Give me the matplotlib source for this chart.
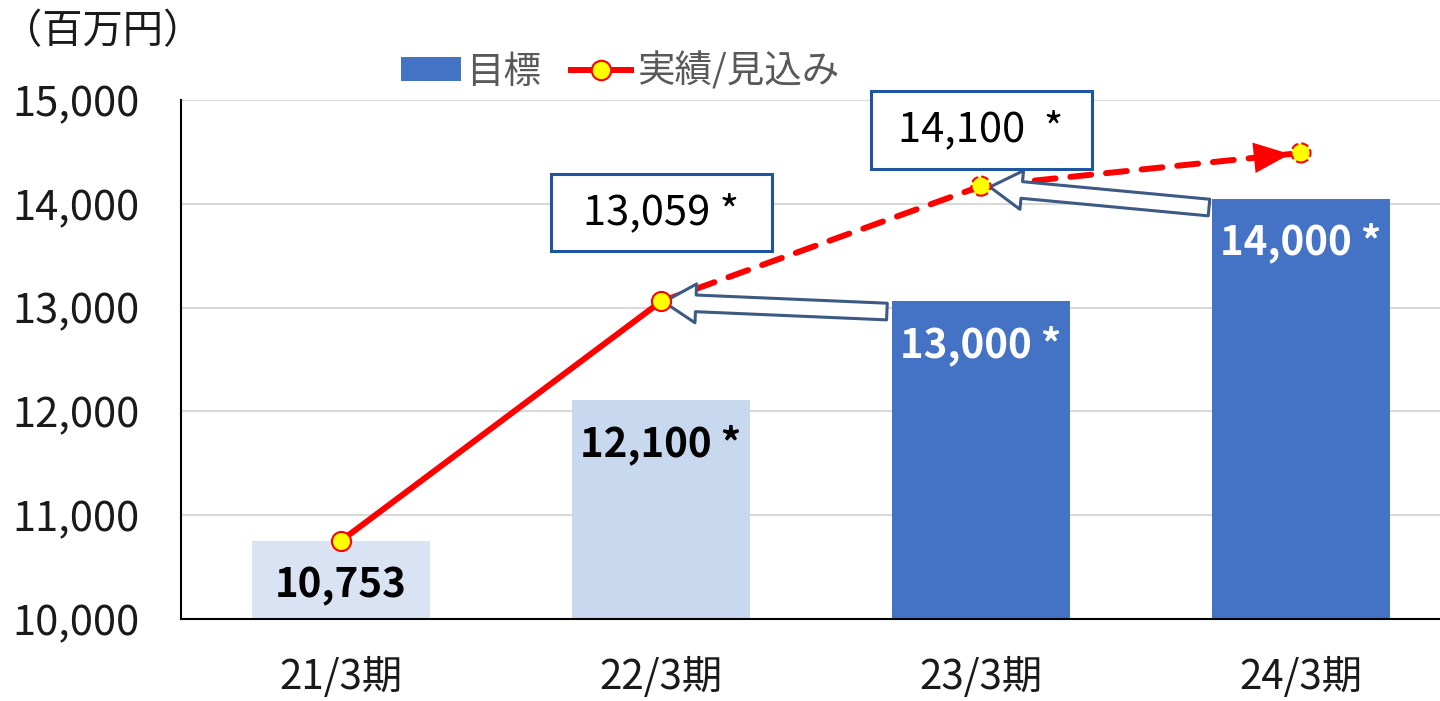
import matplotlib
matplotlib.use("Agg")
import matplotlib.pyplot as plt
from matplotlib.patches import Rectangle, Patch
from matplotlib.lines import Line2D

plt.rcParams['font.family'] = ['Noto Sans CJK JP', 'DejaVu Sans']

# ---- data ----
categories = ['21/3期', '22/3期', '23/3期', '24/3期']
target = [10753, 12110, 13060, 14050]
bar_labels = ['10,753', '12,100 *', '13,000 *', '14,000 *']
bar_colors = ['#dae3f3', '#c7d8ef', '#4472c4', '#4472c4']
bar_label_colors = ['black', 'black', 'white', 'white']
actual = [10753, 13059, 14170, 14490]
callout_texts = ['13,059 *', '14,100  *']
callout_x = [1.0, 2.0]
callout_y = [13916, 14711]
yticks = [10000, 11000, 12000, 13000, 14000, 15000]
ytick_labels = ['10,000', '11,000', '12,000', '13,000', '14,000', '15,000']
# hollow arrows: (tail x, tail y) -> (tip x, tip y)
arrows = [((1.706, 12962), (1.009, 13054)),
          ((2.7125, 13964), (2.028, 14162))]

W, H = 1440, 701
fig = plt.figure(figsize=(W / 100, H / 100), dpi=100)
ax = fig.add_axes([181 / W, 82 / H, 1280 / W, 519 / H])
ax.set_xlim(-0.5, 3.5)
ax.set_ylim(10000, 15000)

# bars
x = list(range(len(categories)))
ax.bar(x, [t - 10000 for t in target], bottom=10000, width=0.556,
       color=bar_colors, zorder=2)
for xi, t, lab, c in zip(x, target, bar_labels, bar_label_colors):
    ax.annotate(lab, (xi, t), xytext=(0, -32), textcoords='offset points',
                ha='center', va='center', fontsize=29, fontweight='bold',
                color=c, zorder=6)

# grid & spines
ax.set_yticks(yticks)
ax.set_yticklabels(ytick_labels)
ax.grid(axis='y', color='#d9d9d9', linewidth=1.5, zorder=0)
ax.set_axisbelow(True)
for s in ['top', 'right']:
    ax.spines[s].set_visible(False)
ax.spines['left'].set_color('black')
ax.spines['left'].set_linewidth(1.5)
ax.spines['bottom'].set_color('black')
ax.spines['bottom'].set_linewidth(1.5)
ax.tick_params(axis='y', length=0, pad=30, labelsize=30, labelcolor='#1a1a1a')
ax.tick_params(axis='x', length=0, pad=27, labelsize=29, labelcolor='#1a1a1a')
ax.set_xticks(x)
ax.set_xticklabels(categories)

# line: solid then dashed
red = '#ff0000'
ax.plot(x[:2], actual[:2], color=red, lw=4.3, solid_capstyle='round', zorder=4)
ax.plot(x[1:], actual[1:], color=red, lw=4.3, linestyle=(0, (3.5, 2.5)),
        dash_capstyle='round', zorder=4)
# arrow head near last point
dx = x[3] - x[2]
dy = actual[3] - actual[2]
ax.annotate('', xy=(x[3], actual[3]), xytext=(x[3] - 0.25 * dx, actual[3] - 0.25 * dy),
            arrowprops=dict(arrowstyle='-|>,head_length=1.3,head_width=0.55',
                            color=red, lw=0, shrinkA=0, shrinkB=8,
                            mutation_scale=20), zorder=4)

# hollow arrows
for (tx, ty), (hx, hy) in arrows:
    ax.annotate('', xy=(hx, hy), xytext=(tx, ty),
                arrowprops=dict(arrowstyle='simple,head_length=2.3,head_width=2.8,tail_width=1.2',
                                fc='white', ec='#3d5a84', lw=2.2,
                                shrinkA=0, shrinkB=0, mutation_scale=10),
                zorder=5)

# markers
ax.scatter(x[:2], actual[:2], s=190, c='#ffff00', edgecolors=red,
           linewidths=1.5, zorder=7)
ax.scatter(x[2:], actual[2:], s=190, c='#ffff00', edgecolors=red,
           linewidths=1.5, linestyle='--', zorder=7)

# callout boxes
bw, bh = 221 / 320, 742
for cx, cy, txt in zip(callout_x, callout_y, callout_texts):
    ax.add_patch(Rectangle((cx - bw / 2, cy - bh / 2), bw, bh, fc='white',
                           ec='#1f55a0', lw=2.2, zorder=8, clip_on=False))
    ax.text(cx, cy, txt, ha='center', va='center', fontsize=30,
            color='black', zorder=9)

# unit label
fig.text(2 / W, 1 - 32 / H, '（百万円）', ha='left', va='center',
         fontsize=29, color='#1a1a1a')

# legend
handles = [Patch(facecolor='#4472c4', edgecolor='none'),
           Line2D([0], [0], color=red, lw=4.3, marker='o', markersize=14,
                  markerfacecolor='#ffff00', markeredgecolor=red, markeredgewidth=1.5)]
leg = fig.legend(handles, ['目標', '実績/見込み'], loc='center',
                 bbox_to_anchor=(620 / W, 1 - 72 / H), ncol=2, frameon=False,
                 fontsize=27, handlelength=1.6, handleheight=0.6,
                 handletextpad=0.15, columnspacing=0.8)
for t in leg.get_texts():
    t.set_color('#595959')

fig.savefig('out.png', dpi=100)
